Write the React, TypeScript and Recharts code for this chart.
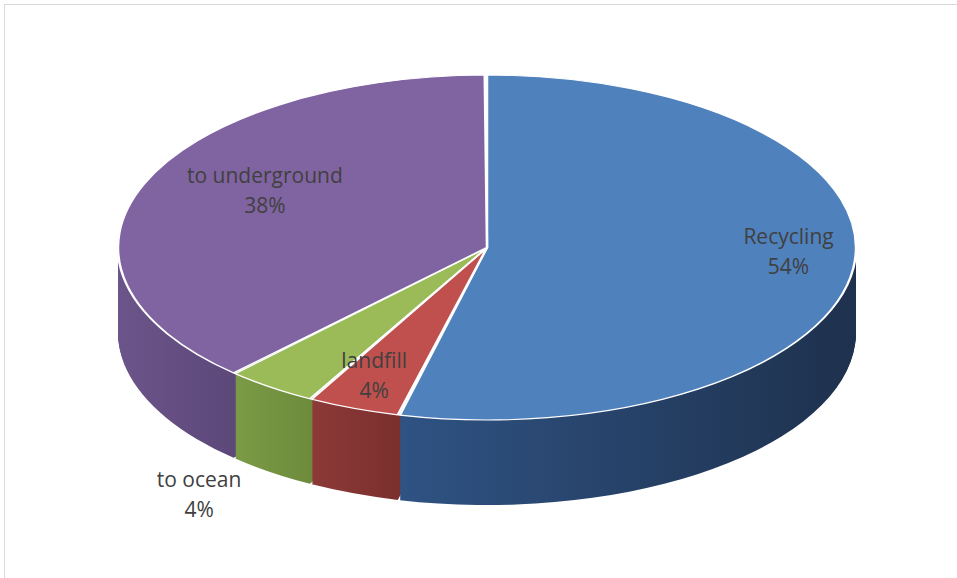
import { PieChart, Pie, Cell } from 'recharts';

const NAMES = ['Recycling', 'landfill', 'to ocean', 'to underground'];
const VALUES = [54, 4, 4, 38];

const TOP_COLORS = ['#4f81bd', '#c0504d', '#9bbb59', '#8064a2'];
const SIDE_LEFT = ['#2f5384', '#8d3a38', '#7b9b46', '#6b5489'];
const SIDE_RIGHT = ['#1e314d', '#7b302e', '#6e8c3c', '#5d487a'];

// label placement along the (flattened) radius, plus a small vertical nudge
const LABEL_RADIUS = [0.823, 0.847, 1.332, 0.647];
const LABEL_SHIFT = [-12, -8, 61, -16];

const W = 957;
const H = 578;
const CX = 487;
const CY = 247.5;
const RX = 369;
const RY = 172.5;
const K = RY / RX;
const DEPTH = 85;
const PAD = 0.35;

const data = NAMES.map((name, i) => ({ name, value: VALUES[i] }));

// x range of the front (visible) rim of every slice, for the side shading
const total = VALUES.reduce((a, b) => a + b, 0);
const sideRanges = (() => {
  let acc = 0;
  return VALUES.map((v) => {
    const a0 = (acc / total) * 360;
    acc += v;
    const a1 = (acc / total) * 360;
    const lo = Math.max(a0, 90);
    const hi = Math.min(a1, 270);
    if (hi <= lo) return [CX - 10, CX + 10];
    const xs = [lo, hi].map((a) => CX + RX * Math.sin((a * Math.PI) / 180));
    if (lo <= 90 && hi >= 90) xs.push(CX + RX);
    if (lo <= 270 && hi >= 270) xs.push(CX - RX);
    return [Math.min(...xs), Math.max(...xs)];
  });
})();

const layers = Array.from({ length: DEPTH }, (_, i) => DEPTH - i);

const renderLabel = (props: any) => {
  const { cx, cy, midAngle, index, name, percent } = props;
  const rad = (midAngle * Math.PI) / 180;
  const f = LABEL_RADIUS[index];
  const x = cx + RX * f * Math.cos(rad);
  const y = cy - RY * f * Math.sin(rad) + LABEL_SHIFT[index];
  return (
    <text
      x={x}
      y={y}
      textAnchor="middle"
      fill="#404040"
      fontFamily="'Open Sans', sans-serif"
      fontSize={21}
    >
      <tspan x={x} y={y - 8}>{name}</tspan>
      <tspan x={x} y={y + 22}>{`${Math.round(percent * 100)}%`}</tspan>
    </text>
  );
};

export default function App() {
  const margin = { top: 0, right: 0, bottom: 0, left: 0 };
  const tallH = Math.ceil(H / K);

  return (
    <div
      style={{
        position: 'absolute',
        left: 0,
        top: 0,
        width: W,
        height: H,
        overflow: 'hidden',
        background: '#fff',
      }}
    >
      <svg width={0} height={0} style={{ position: 'absolute' }}>
        <defs>
          {SIDE_LEFT.map((c, i) => (
            <linearGradient
              key={i}
              id={`side${i}`}
              gradientUnits="userSpaceOnUse"
              x1={sideRanges[i][0]}
              y1={0}
              x2={sideRanges[i][1]}
              y2={0}
            >
              <stop offset="0" stopColor={c} />
              <stop offset="1" stopColor={SIDE_RIGHT[i]} />
            </linearGradient>
          ))}
        </defs>
      </svg>

      <div
        style={{
          position: 'absolute',
          left: 4,
          top: 4,
          width: 1200,
          height: 1200,
          border: '1px solid #d9d9d9',
        }}
      />

      <div
        style={{
          position: 'absolute',
          left: 0,
          top: 0,
          width: W,
          height: tallH,
          transform: `scaleY(${K})`,
          transformOrigin: '0 0',
        }}
      >
        <PieChart width={W} height={tallH} margin={margin}>
          {layers.map((d) => (
            <Pie
              key={d}
              data={data}
              dataKey="value"
              nameKey="name"
              cx={CX}
              cy={(CY + d) / K}
              outerRadius={RX}
              startAngle={90}
              endAngle={-270}
              paddingAngle={PAD}
              stroke="none"
              label={false}
              labelLine={false}
              isAnimationActive={false}
            >
              {data.map((_, i) => (
                <Cell key={i} fill={`url(#side${i})`} stroke="none" />
              ))}
            </Pie>
          ))}
          <Pie
            data={data}
            dataKey="value"
            nameKey="name"
            cx={CX}
            cy={CY / K}
            outerRadius={RX}
            startAngle={90}
            endAngle={-270}
            paddingAngle={PAD}
            stroke="#fff"
            strokeWidth={2.5}
            label={false}
            labelLine={false}
            isAnimationActive={false}
          >
            {data.map((_, i) => (
              <Cell key={i} fill={TOP_COLORS[i]} />
            ))}
          </Pie>
        </PieChart>
      </div>

      <div style={{ position: 'absolute', left: 0, top: 0 }}>
        <PieChart width={W} height={H} margin={margin}>
          <Pie
            data={data}
            dataKey="value"
            nameKey="name"
            cx={CX}
            cy={CY}
            outerRadius={RX}
            startAngle={90}
            endAngle={-270}
            paddingAngle={PAD}
            fill="transparent"
            stroke="none"
            labelLine={false}
            label={renderLabel}
            isAnimationActive={false}
          />
        </PieChart>
      </div>
    </div>
  );
}
